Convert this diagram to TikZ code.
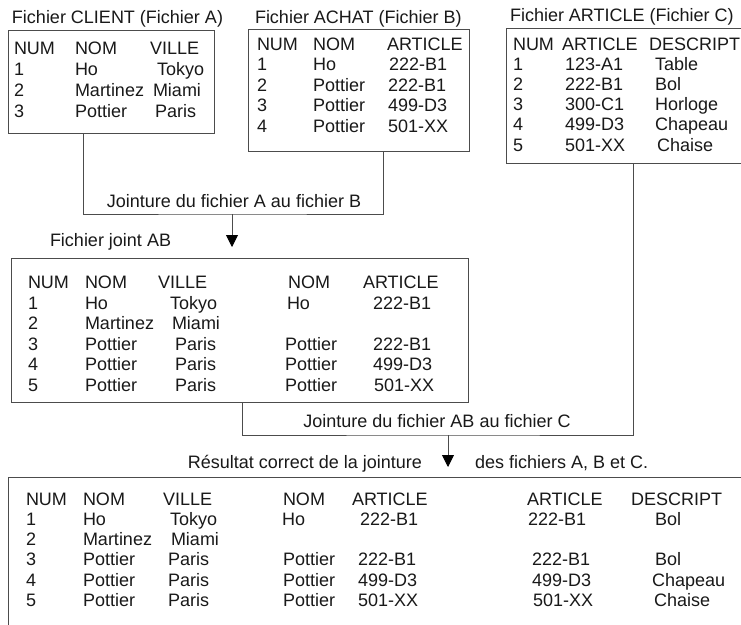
\documentclass[tikz,border=0pt]{standalone}
\usepackage{fontspec}
\setmainfont{Liberation Sans}
\usetikzlibrary{arrows.meta}
\newcommand\tabfont{\fontsize{18}{21}\selectfont}
\tikzset{
  txt/.style={anchor=base west, inner sep=0pt, outer sep=0pt, font=\tabfont, text=black!90},
  lbl/.style={anchor=base, inner sep=0pt, outer sep=0pt, font=\tabfont, text=black!90},
  box/.style={draw=black!70, line width=0.9pt, inner sep=0pt, outer sep=0pt, anchor=north west},
  conn/.style={draw=black!70, line width=0.9pt},
  arr/.style={conn, -{Triangle[width=12pt,length=12pt,color=black]}},
}
\newcommand\tabrow[3]{\foreach \cellx/\celltxt [count=\cellidx] in {#3} {\node[txt] (#1-\cellidx) at (\cellx,#2) {\celltxt};}}
\begin{document}
\begin{tikzpicture}[x=1pt,y=-1pt]
\useasboundingbox (0,0) rectangle (741,624);
\clip (0,0) rectangle (741,624);
\fill[white] (0,0) rectangle (741,624);
% titles
\node[txt] (tA) at (12,23) {Fichier CLIENT (Fichier A)};
\node[txt] (tB) at (255,23) {Fichier ACHAT (Fichier B)};
\node[txt] (tC) at (510,21) {Fichier ARTICLE (Fichier C)};
% boxes
\node[box, minimum width=206pt, minimum height=103pt] (A) at (8,30) {};
\node[box, minimum width=221pt, minimum height=122pt] (B) at (248,29) {};
\node[box, minimum width=260pt, minimum height=135pt] (C) at (506,28) {};
\node[box, minimum width=457pt, minimum height=144pt] (AB) at (11,258) {};
\node[box, minimum width=760pt, minimum height=170pt] (R) at (8,477) {};
% box A
\tabrow{a0}{54}{14/NUM,75/NOM,150/VILLE}
\tabrow{a1}{75}{14/1,75/Ho,157/Tokyo}
\tabrow{a2}{96}{14/2,75/Martinez,153/Miami}
\tabrow{a3}{117}{14/3,75/Pottier,155/Paris}
% box B
\tabrow{b0}{50}{257/NUM,313/NOM,387/ARTICLE}
\tabrow{b1}{70.5}{257/1,313/Ho,389/222-B1}
\tabrow{b2}{91}{257/2,313/Pottier,388/222-B1}
\tabrow{b3}{111.5}{257/3,313/Pottier,388/499-D3}
\tabrow{b4}{132}{257/4,313/Pottier,388/501-XX}
% box C
\tabrow{c0}{50}{513/NUM,562/ARTICLE,649/DESCRIPT}
\tabrow{c1}{70.2}{513/1,565/123-A1,655/Table}
\tabrow{c2}{90.4}{513/2,565/222-B1,655/Bol}
\tabrow{c3}{110.6}{513/3,565/300-C1,655/Horloge}
\tabrow{c4}{130.8}{513/4,565/499-D3,655/Chapeau}
\tabrow{c5}{151}{513/5,565/501-XX,657/Chaise}
% join 1
\coordinate (j1) at (232,214);
\coordinate (t1) at (232,247);
\draw[conn] ([xshift=-28pt]A.south) |- (j1) -| ([xshift=24.5pt]B.south);
\draw[arr] (j1) -- (t1);
\node[lbl] (l1) at (234,207) {Jointure du fichier A au fichier B};
\node[txt] (fj) at (50,246) {Fichier joint AB};
% box AB
\tabrow{d0}{288.5}{28/NUM,85/NOM,158/VILLE,288/NOM,363/ARTICLE}
\tabrow{d1}{309}{28/1,85/Ho,170/Tokyo,287/Ho,373/222-B1}
\tabrow{d2}{329.5}{28/2,85/Martinez,172/Miami}
\tabrow{d3}{350}{28/3,85/Pottier,175/Paris,285/Pottier,373/222-B1}
\tabrow{d4}{370.5}{28/4,85/Pottier,175/Paris,285/Pottier,373/499-D3}
\tabrow{d5}{391}{28/5,85/Pottier,175/Paris,285/Pottier,374/501-XX}
% join 2
\coordinate (j2) at (448,435);
\coordinate (t2) at (448,467);
\draw[conn] ([xshift=2.5pt]AB.south) |- (j2) -| ([xshift=-3pt]C.south);
\draw[arr] (j2) -- (t2);
\node[lbl] (l2) at (437,427) {Jointure du fichier AB au fichier C};
\node[txt, anchor=base east] (r1) at (422,468) {Résultat correct de la jointure};
\node[txt] (r2) at (475,468) {des fichiers A, B et C.};
% result box
\tabrow{e0}{505}{26/NUM,83/NOM,163/VILLE,283/NOM,352/ARTICLE,527/ARTICLE,631/DESCRIPT}
\tabrow{e1}{525.3}{26/1,83/Ho,170/Tokyo,282/Ho,360/222-B1,528/222-B1,655/Bol}
\tabrow{e2}{545.6}{26/2,83/Martinez,171/Miami}
\tabrow{e3}{565.9}{26/3,83/Pottier,168/Paris,283/Pottier,358/222-B1,532/222-B1,655/Bol}
\tabrow{e4}{586.2}{26/4,83/Pottier,168/Paris,283/Pottier,358/499-D3,532/499-D3,652/Chapeau}
\tabrow{e5}{606.5}{26/5,83/Pottier,168/Paris,283/Pottier,358/501-XX,533/501-XX,654/Chaise}
\end{tikzpicture}
\end{document}
